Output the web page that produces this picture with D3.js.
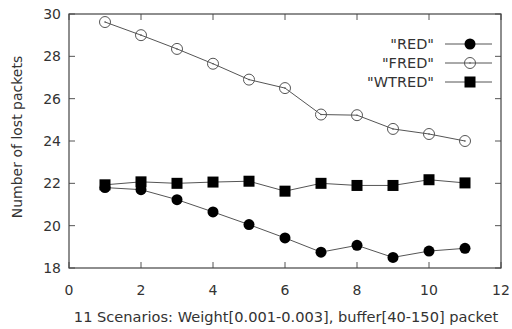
<!DOCTYPE html>
<html>
<head>
<meta charset="utf-8">
<script src="https://cdn.jsdelivr.net/npm/d3@7"></script>
<style>
  body { margin: 0; background: #fff; }
  svg { display: block; }
  text { font-family: "DejaVu Sans", sans-serif; fill: #333; }
</style>
</head>
<body>
<svg id="chart"></svg>
<script>
const scenarios = [1, 2, 3, 4, 5, 6, 7, 8, 9, 10, 11];
const red = [21.8, 21.7, 21.23, 20.65, 20.05, 19.42, 18.75, 19.07, 18.5, 18.8, 18.93];
const fred = [29.62, 29.0, 28.35, 27.65, 26.9, 26.5, 25.25, 25.22, 24.57, 24.33, 24.0];
const wtred = [21.93, 22.07, 22.0, 22.06, 22.1, 21.63, 22.0, 21.9, 21.9, 22.17, 22.02];
const xTicks = [0, 2, 4, 6, 8, 10, 12];
const yTicks = [18, 20, 22, 24, 26, 28, 30];

const width = 512, height = 329;
const plotLeft = 69, plotRight = 501, plotTop = 14, plotBottom = 268;

const svg = d3.select("#chart").attr("width", width).attr("height", height);

const x = d3.scaleLinear().domain([0, 12]).range([plotLeft, plotRight]);
const y = d3.scaleLinear().domain([18, 30]).range([plotBottom, plotTop]);

// inward ticks, gnuplot style, mirrored on top and right
const tickLen = 6;
const ticks = svg.append("g").attr("stroke", "#555").attr("stroke-width", 1);
xTicks.forEach(t => {
  ticks.append("line").attr("x1", x(t)).attr("x2", x(t)).attr("y1", plotBottom).attr("y2", plotBottom - tickLen);
  ticks.append("line").attr("x1", x(t)).attr("x2", x(t)).attr("y1", plotTop).attr("y2", plotTop + tickLen);
});
yTicks.forEach(t => {
  ticks.append("line").attr("x1", plotLeft).attr("x2", plotLeft + tickLen).attr("y1", y(t)).attr("y2", y(t));
  ticks.append("line").attr("x1", plotRight).attr("x2", plotRight - tickLen).attr("y1", y(t)).attr("y2", y(t));
});

svg.append("rect")
  .attr("x", plotLeft).attr("y", plotTop)
  .attr("width", plotRight - plotLeft).attr("height", plotBottom - plotTop)
  .attr("fill", "none").attr("stroke", "#444").attr("stroke-width", 1.2);

svg.append("g").selectAll("text").data(xTicks).enter().append("text")
  .attr("x", d => x(d)).attr("y", plotBottom + 27)
  .attr("text-anchor", "middle").attr("font-size", 14)
  .text(d => d);

svg.append("g").selectAll("text").data(yTicks).enter().append("text")
  .attr("x", plotLeft - 8).attr("y", d => y(d) + 5)
  .attr("text-anchor", "end").attr("font-size", 14)
  .text(d => d);

svg.append("text")
  .attr("transform", "translate(22,137) rotate(-90)")
  .attr("text-anchor", "middle").attr("font-size", 14)
  .text("Number of lost packets");

svg.append("text")
  .attr("x", 286).attr("y", 322)
  .attr("text-anchor", "middle").attr("font-size", 14.6)
  .text("11 Scenarios: Weight[0.001-0.003], buffer[40-150] packet");

const series = [
  { name: "\"RED\"", values: red, marker: "filledCircle" },
  { name: "\"FRED\"", values: fred, marker: "openCircle" },
  { name: "\"WTRED\"", values: wtred, marker: "square" }
];

const line = d3.line().x((d, i) => x(scenarios[i])).y(d => y(d));

function drawMarker(g, mx, my, kind) {
  if (kind === "filledCircle") {
    g.append("circle").attr("cx", mx).attr("cy", my).attr("r", 5.5).attr("fill", "#000");
  } else if (kind === "openCircle") {
    g.append("circle").attr("cx", mx).attr("cy", my).attr("r", 5.5)
      .attr("fill", "none").attr("stroke", "#555").attr("stroke-width", 1);
    g.append("circle").attr("cx", mx).attr("cy", my).attr("r", 0.8).attr("fill", "#555");
  } else {
    g.append("rect").attr("x", mx - 5.5).attr("y", my - 5.5).attr("width", 11).attr("height", 11).attr("fill", "#000");
  }
}

series.forEach(s => {
  const g = svg.append("g");
  g.append("path").datum(s.values).attr("d", line)
    .attr("fill", "none").attr("stroke", "#555").attr("stroke-width", 1);
  s.values.forEach((v, i) => drawMarker(g, x(scenarios[i]), y(v), s.marker));
});

// legend
const legendY = [44, 63, 82];
series.forEach((s, i) => {
  const g = svg.append("g");
  g.append("text").attr("x", 434).attr("y", legendY[i] + 5)
    .attr("text-anchor", "end").attr("font-size", 14.5).text(s.name);
  g.append("line").attr("x1", 445).attr("x2", 492).attr("y1", legendY[i]).attr("y2", legendY[i])
    .attr("stroke", "#555").attr("stroke-width", 1);
  drawMarker(g, 470, legendY[i], s.marker);
});
</script>
</body>
</html>
